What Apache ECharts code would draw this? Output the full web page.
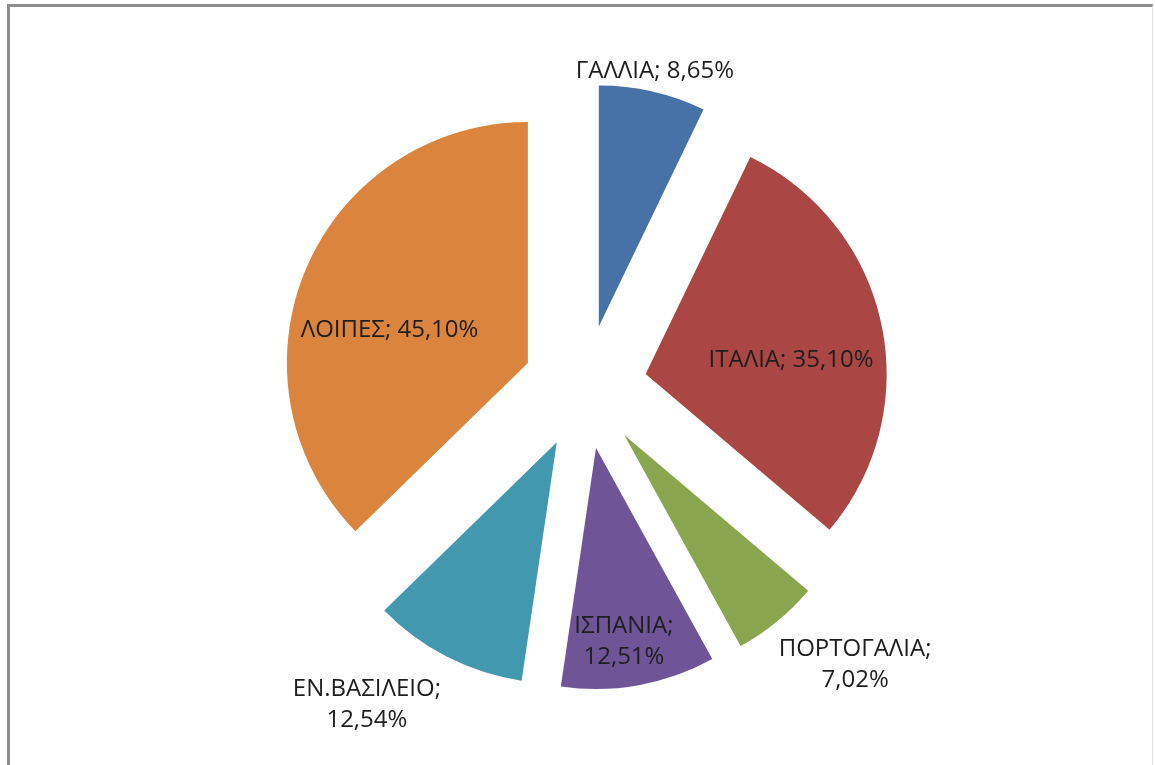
<!DOCTYPE html>
<html>
<head>
<meta charset="utf-8">
<script src="https://cdn.jsdelivr.net/npm/echarts@6/dist/echarts.min.js"></script>
<style>
  html, body { margin: 0; padding: 0; background: #fff; }
  .frame {
    position: absolute; left: 7px; top: 4px; width: 1142px; height: 780px;
    border-left: 3px solid #8c8c8c; border-top: 3px solid #8c8c8c;
    border-right: 1px solid #e4e4e4;
  }
  #chart { position: absolute; left: 0; top: 0; width: 1155px; height: 765px; }
</style>
</head>
<body>
<div class="frame"></div>
<div id="chart"></div>
<script>
  // data, clockwise from the top
  var countries = ['ΓΑΛΛΙΑ', 'ΙΤΑΛΙΑ', 'ΠΟΡΤΟΓΑΛΙΑ', 'ΙΣΠΑΝΙΑ', 'ΕΝ.ΒΑΣΙΛΕΙΟ', 'ΛΟΙΠΕΣ'];
  var shares = [8.65, 35.10, 7.02, 12.51, 12.54, 45.10];

  var colors = ['#4672a8', '#aa4644', '#89a54e', '#6f5597', '#4198af', '#db843d'];
  // where each label sits: [distance as part of R, turn from the slice mid angle (deg)]
  var labelSpot = [[1.085, -0.5], [0.606, 6.5], [1.35, -5.9], [0.81, 2], [1.345, 8.8], [0.59, -9.5]];
  var labelWrap = [false, false, true, true, true, false];

  var cx = 585, cy = 387, R = 241, explode = 62;
  var total = shares.reduce(function (a, b) { return a + b; }, 0);

  function midAngle(i) {
    var before = 0;
    for (var j = 0; j < i; j++) before += shares[j];
    return (before + shares[i] / 2) / total * 360;
  }

  function labelText(i) {
    var sep = labelWrap[i] ? ';\n' : '; ';
    return countries[i] + sep + shares[i].toFixed(2).replace('.', ',') + '%';
  }

  // the pie labels are put as text next to each pulled-out slice
  var labels = countries.map(function (c, i) {
    var m = midAngle(i) * Math.PI / 180;
    var a = (midAngle(i) + labelSpot[i][1]) * Math.PI / 180;
    var ox = cx + explode * Math.sin(m), oy = cy - explode * Math.cos(m);
    var d = labelSpot[i][0] * R;
    return {
      type: 'text',
      x: ox + d * Math.sin(a),
      y: oy - d * Math.cos(a),
      z: 10,
      style: {
        text: labelText(i),
        fontFamily: 'Open Sans',
        fontSize: 24,
        lineHeight: 31,
        fill: '#1e1e1e',
        align: 'center',
        verticalAlign: 'middle'
      }
    };
  });

  var chart = echarts.init(document.getElementById('chart'));
  chart.setOption({
    animation: false,
    graphic: labels,
    series: [{
      type: 'pie',
      center: [cx, cy],
      radius: [0, R],
      startAngle: 90,
      clockwise: true,
      selectedMode: 'multiple',
      selectedOffset: explode,
      emphasis: { disabled: true },
      itemStyle: { borderWidth: 0 },
      label: { show: false },
      labelLine: { show: false },
      data: countries.map(function (c, i) {
        return { name: c, value: shares[i], selected: true, itemStyle: { color: colors[i] } };
      })
    }]
  });
</script>
</body>
</html>
